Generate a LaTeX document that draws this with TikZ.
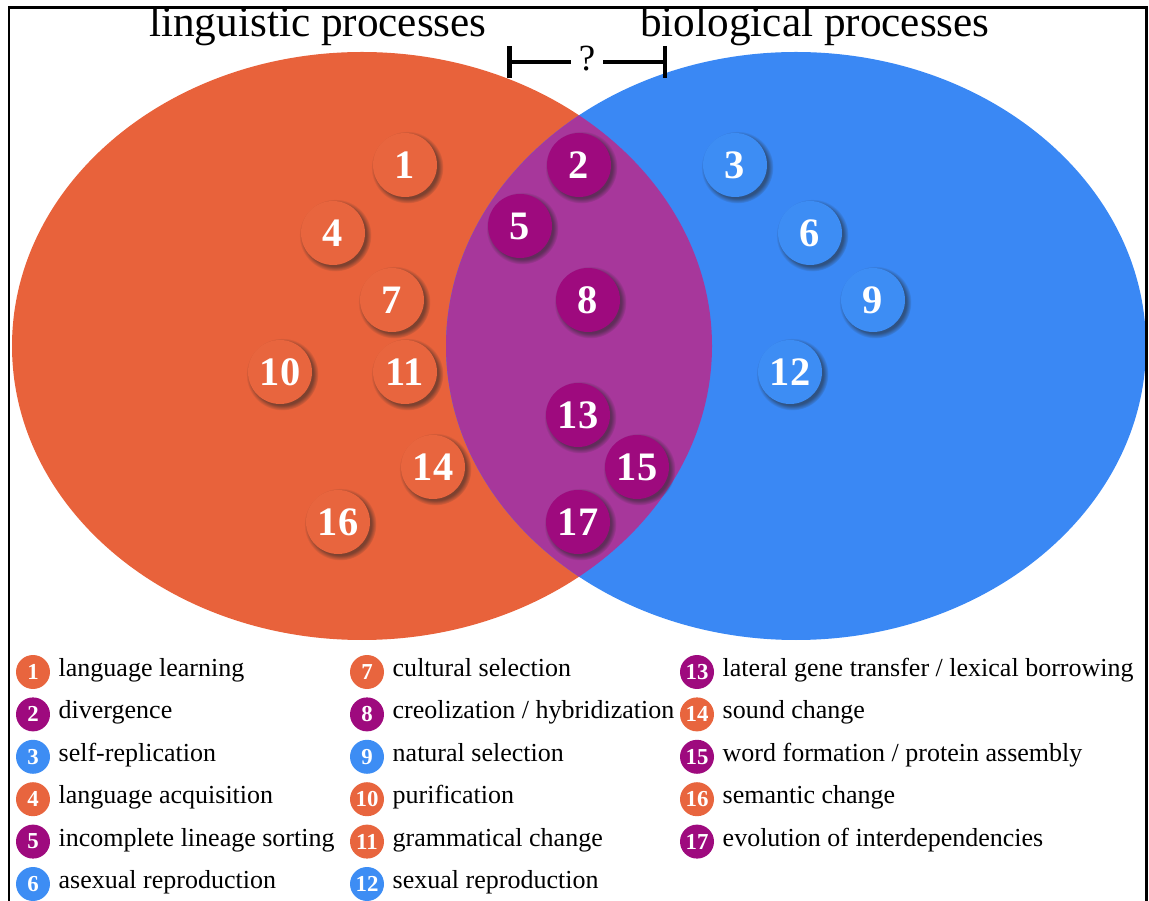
\documentclass[tikz,border=0pt]{standalone}
\usepackage{fontspec}
\setmainfont{Liberation Serif}
\usepackage{xcolor}
\usetikzlibrary{arrows.meta,positioning,shadows}
\definecolor{lingorange}{HTML}{E8623B}
\definecolor{bioblue}{HTML}{3A88F4}
\definecolor{overlap}{HTML}{A7379B}
\definecolor{dotorange}{HTML}{E8653E}
\definecolor{dotpurple}{HTML}{9E0A7E}
\definecolor{dotblue}{HTML}{3D8DF4}
\definecolor{ink}{HTML}{000000}
\tikzset{
  bigdot/.style={circle,minimum size=1.28cm,inner sep=0pt,text=white,
                 font=\fontsize{23}{23}\selectfont\bfseries,
                 circular drop shadow={shadow xshift=0.04cm,shadow yshift=-0.04cm,
                                       opacity=0.55,shadow scale=1.13,fill=black!85}},
  lingdot/.style={bigdot,fill=dotorange},
  bothdot/.style={bigdot,fill=dotpurple},
  biodot/.style={bigdot,fill=dotblue},
  keydot/.style={circle,minimum size=0.68cm,inner sep=0pt,text=white,
                 font=\fontsize{13}{13}\selectfont\bfseries},
  lingkey/.style={keydot,fill=dotorange},
  bothkey/.style={keydot,fill=dotpurple},
  biokey/.style={keydot,fill=dotblue},
  keytext/.style={anchor=west,inner sep=0pt,text=ink,
                  font=\fontsize{14.8}{17}\selectfont,
                  text height=1.45ex,text depth=0.35ex},
  title/.style={anchor=base,text=ink,font=\fontsize{24.6}{28}\selectfont},
  bracket/.style={-{Bar[width=0.64cm]},line width=0.09cm,draw=ink},
  frame/.style={line width=0.06cm,draw=ink}
}
\begin{document}
\begin{tikzpicture}[x=0.02cm,y=-0.02cm]
    \path[use as bounding box] (0,0) rectangle (1149,901);

    % the two sets and their overlap
    \fill[lingorange] (362,346) ellipse [x radius=350,y radius=294];
    \fill[bioblue] (796,346) ellipse [x radius=350,y radius=294];
    \begin{scope}
      \clip (362,346) ellipse [x radius=350,y radius=294];
      \fill[overlap] (796,346) ellipse [x radius=350,y radius=294];
    \end{scope}
    \draw[frame] (9,901) |- (1146,8) -- (1146,901);

    \node[title] (ling) at (318,37) {linguistic processes};
    \node[title] (bio) at (815,37) {biological processes};
    \coordinate (lend) at (507,62);
    \coordinate (rend) at (667,62);
    \node[text=ink,inner sep=0.15cm,font=\fontsize{21}{21}\selectfont] (gap) at (587,59) {?};
    \draw[bracket] (gap.west |- lend) -- (lend);
    \draw[bracket] (gap.east |- rend) -- (rend);

    % numbered processes
    \node[lingdot] (n1) at (405,165) {1};
    \node[bothdot] (n2) at (579,165) {2};
    \node[biodot] (n3) at (735,165) {3};
    \node[lingdot] (n4) at (333,233) {4};
    \node[bothdot] (n5) at (520,226) {5};
    \node[biodot] (n6) at (810,233) {6};
    \node[lingdot] (n7) at (392,300) {7};
    \node[bothdot] (n8) at (588,300) {8};
    \node[biodot] (n9) at (873,300) {9};
    \node[lingdot] (n10) at (280,372) {10};
    \node[lingdot] (n11) at (405,372) {11};
    \node[biodot] (n12) at (790,372) {12};
    \node[bothdot] (n13) at (578,415) {13};
    \node[lingdot] (n14) at (433,467) {14};
    \node[bothdot] (n15) at (637,467) {15};
    \node[lingdot] (n16) at (338,522) {16};
    \node[bothdot] (n17) at (578,522) {17};

    % legend
    \node[lingkey] (k1) at (33,672) {1};
    \node[keytext,right=0.16cm of k1] (t1) {language learning};
    \node[bothkey] (k2) at (33,714.4) {2};
    \node[keytext,right=0.16cm of k2] (t2) {divergence};
    \node[biokey] (k3) at (33,756.8) {3};
    \node[keytext,right=0.16cm of k3] (t3) {self-replication};
    \node[lingkey] (k4) at (33,799.2) {4};
    \node[keytext,right=0.16cm of k4] (t4) {language acquisition};
    \node[bothkey] (k5) at (33,841.6) {5};
    \node[keytext,right=0.16cm of k5] (t5) {incomplete lineage sorting};
    \node[biokey] (k6) at (33,884) {6};
    \node[keytext,right=0.16cm of k6] (t6) {asexual reproduction};

    \node[lingkey] (k7) at (367,672) {7};
    \node[keytext,right=0.16cm of k7] (t7) {cultural selection};
    \node[bothkey] (k8) at (367,714.4) {8};
    \node[keytext,right=0.16cm of k8] (t8) {creolization / hybridization};
    \node[biokey] (k9) at (367,756.8) {9};
    \node[keytext,right=0.16cm of k9] (t9) {natural selection};
    \node[lingkey] (k10) at (367,799.2) {10};
    \node[keytext,right=0.16cm of k10] (t10) {purification};
    \node[lingkey] (k11) at (367,841.6) {11};
    \node[keytext,right=0.16cm of k11] (t11) {grammatical change};
    \node[biokey] (k12) at (367,884) {12};
    \node[keytext,right=0.16cm of k12] (t12) {sexual reproduction};

    \node[bothkey] (k13) at (697,672) {13};
    \node[keytext,right=0.16cm of k13] (t13) {lateral gene transfer / lexical borrowing};
    \node[lingkey] (k14) at (697,714.4) {14};
    \node[keytext,right=0.16cm of k14] (t14) {sound change};
    \node[bothkey] (k15) at (697,756.8) {15};
    \node[keytext,right=0.16cm of k15] (t15) {word formation / protein assembly};
    \node[lingkey] (k16) at (697,799.2) {16};
    \node[keytext,right=0.16cm of k16] (t16) {semantic change};
    \node[bothkey] (k17) at (697,841.6) {17};
    \node[keytext,right=0.16cm of k17] (t17) {evolution of interdependencies};
  \end{tikzpicture}
\end{document}
